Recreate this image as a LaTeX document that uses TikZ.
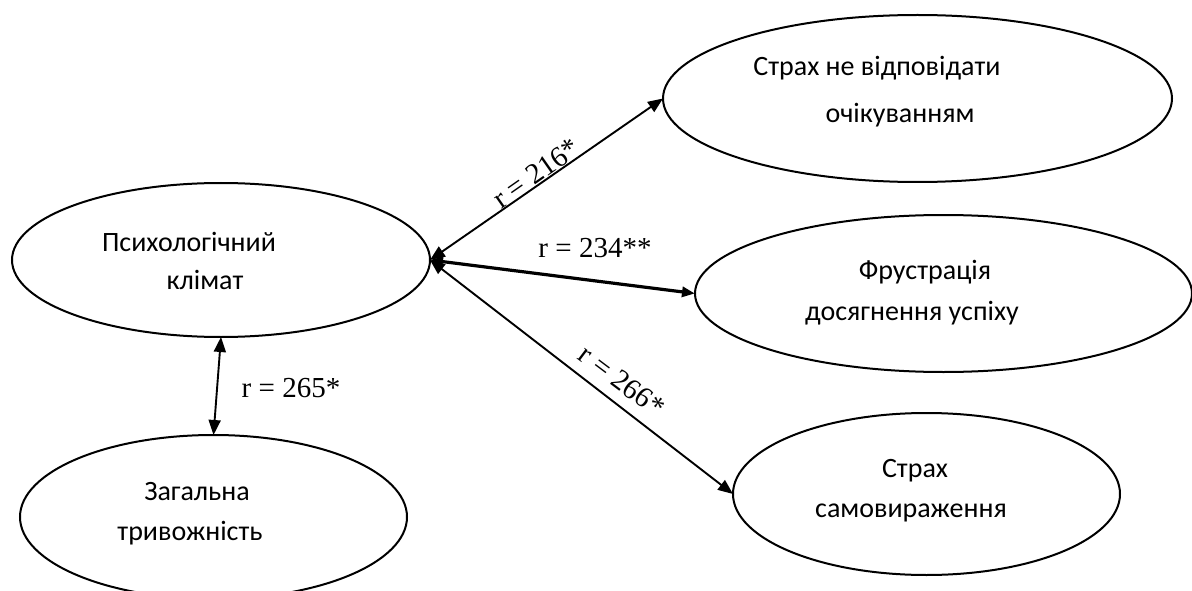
\documentclass[tikz,border=0pt]{standalone}
\usepackage{fontspec}
\setmainfont{Liberation Serif}
\newfontfamily\calib{Carlito}
\usetikzlibrary{shapes.geometric,arrows.meta}
\begin{document}
\begin{tikzpicture}[x=1pt,y=-1pt,
  oval/.style={ellipse,draw,line width=2pt,inner sep=0pt,outer sep=0pt},
  txt/.style={font=\calib\fontsize{28}{34}\selectfont,inner sep=0pt,text height=20pt,text depth=6pt},
  rl/.style={font=\fontsize{29}{34}\selectfont,inner sep=0pt},
  tip/.tip={Triangle[length=15pt,width=12pt]},
  con/.style={line width=1.9pt,tip-tip},
  conthick/.style={line width=3.2pt,{Triangle[length=13pt,width=10pt]}-{Triangle[length=13pt,width=10pt]}}
  ]
\useasboundingbox (0,0) rectangle (1192,591);
\clip (0,0) rectangle (1192,591);
% ellipses
\node[oval,minimum width=418pt,minimum height=154pt] (e1) at (221,260) {};
\node[oval,minimum width=387pt,minimum height=164pt] (e2) at (213.5,517) {};
\node[oval,minimum width=509pt,minimum height=167pt] (e3) at (917.5,98.5) {};
\node[oval,minimum width=497pt,minimum height=157pt] (e4) at (943.5,293.5) {};
\node[oval,minimum width=387pt,minimum height=162pt] (e5) at (926.5,494) {};
% texts
\node[txt] (t1a) at (189,244) {Психологічний};
\node[txt] (t1b) at (205,282) {клімат};
\node[txt] (t2a) at (197,493) {Загальна};
\node[txt] (t2b) at (190,533) {тривожність};
\node[txt] (t3a) at (877,69) {Страх не відповідати};
\node[txt] (t3b) at (900,116) {очікуванням};
\node[txt] (t4a) at (925,272) {Фрустрація};
\node[txt] (t4b) at (912,313) {досягнення успіху};
\node[txt] (t5a) at (915,470) {Страх};
\node[txt] (t5b) at (911,510) {самовираження};
% connectors
\draw[con] (e1.south) -- (e2.north);
\draw[con] (e1.east) -- (e3.west);
\draw[conthick] (e1.east) -- (e4.west);
\draw[con] (e1.east) -- (e5.west);
% labels
\node[rl] (r265) at (291,388) {r = 265*};
\node[rl] (r234) at (595,248) {r = 234**};
\node[rl,rotate=35] (r216) at (536,173) {r = 216*};
\node[rl,rotate=-37] (r266) at (622,381) {r = 266*};
\end{tikzpicture}
\end{document}
